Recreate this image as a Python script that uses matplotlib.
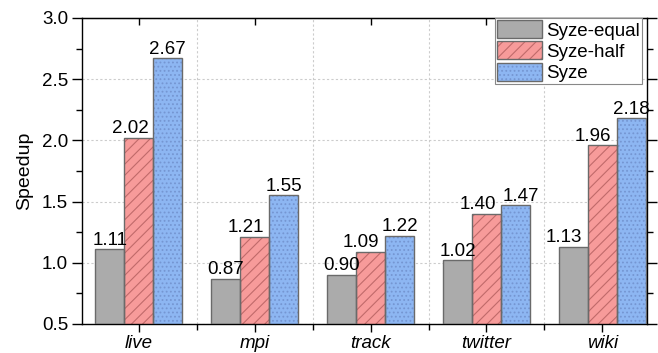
import numpy as np
import matplotlib.pyplot as plt
from matplotlib.ticker import MultipleLocator, FixedLocator

plt.rcParams['font.family'] = ['Liberation Sans', 'DejaVu Sans']
plt.rcParams['hatch.linewidth'] = 0.8

datasets = ['live', 'mpi', 'track', 'twitter', 'wiki']
syze_equal = [1.11, 0.87, 0.90, 1.02, 1.13]
syze_half = [2.02, 1.21, 1.09, 1.40, 1.96]
syze = [2.67, 1.55, 1.22, 1.47, 2.18]

# horizontal nudges (points) for the value labels so neighbours don't collide
nudge_equal = [0, 0, 0, 0, -7]
nudge_half = [-6, -6, -7, -6, -7]
nudge_syze = [0, 0, 0, 4, 0]

series = [
    ('Syze-equal', syze_equal, nudge_equal, '#ABABAB', None, '#ABABAB'),
    ('Syze-half', syze_half, nudge_half, '#F79B9A', '///', '#C06A6A'),
    ('Syze', syze, nudge_syze, '#8DB6F2', '....', '#7596D2'),
]

fig = plt.figure(figsize=(6.58, 3.53), dpi=100)
ax = fig.add_axes([0.1246, 0.0822, 0.8587, 0.867])

x = np.arange(len(datasets))
w = 0.25
edge = '#6A6A6A'
fs = 13.5
handles = []
for i, (label, vals, nudges, face, hatch, hcol) in enumerate(series):
    pos = x + (i - 1) * w
    # fill + hatch first, outline drawn on top so the hatch keeps its own colour
    fill = ax.bar(pos, vals, w, color=face, hatch=hatch, edgecolor=hcol,
                  linewidth=0, zorder=2)
    outline = ax.bar(pos, vals, w, fill=False, edgecolor=edge,
                     linewidth=1.0, zorder=3)
    handles.append((fill[0], outline[0]))
    for p, v, dx in zip(pos, vals, nudges):
        ax.annotate(f'{v:.2f}', (p, v), xytext=(dx, 0.5),
                    textcoords='offset points', ha='center', va='bottom',
                    fontsize=fs, zorder=4)

ax.set_xlim(-0.49, 4.385)
ax.set_ylim(0.5, 3.0)

ax.set_xticks(x)
ax.set_xticklabels(datasets, fontsize=fs, style='italic')
ax.xaxis.set_minor_locator(FixedLocator(x[:-1] + 0.5))
ax.yaxis.set_major_locator(MultipleLocator(0.5))
ax.yaxis.set_minor_locator(MultipleLocator(0.25))
ax.yaxis.set_major_formatter(plt.FormatStrFormatter('%.1f'))

ax.tick_params(axis='y', which='major', direction='out', length=7, width=1,
               labelsize=fs, right=True, pad=3)
ax.tick_params(axis='y', which='minor', direction='out', length=4, width=1,
               right=True)
ax.tick_params(axis='x', which='major', direction='out', length=6, width=1,
               pad=2)
ax.tick_params(axis='x', which='minor', direction='out', length=4, width=1)

# inward ticks along the top spine at each category
top = ax.secondary_xaxis('top')
top.set_xticks(x)
top.tick_params(direction='in', length=5, width=1, labeltop=False)

for s in ax.spines.values():
    s.set_linewidth(1.0)

ax.set_ylabel('Speedup', fontsize=14, labelpad=6)

ax.grid(axis='y', which='major', linestyle=(0, (2, 2)), color='#CCCCCC',
        linewidth=0.8, zorder=0)
ax.grid(axis='x', which='minor', linestyle=(0, (2, 2)), color='#CCCCCC',
        linewidth=0.8, zorder=0)
ax.set_axisbelow(True)

leg = ax.legend(handles, [s[0] for s in series], loc='upper right',
                bbox_to_anchor=(0.991, 1.0), fontsize=fs, frameon=True,
                fancybox=False, framealpha=1, edgecolor='#888888',
                borderpad=0.12, borderaxespad=0, handlelength=2.4,
                handleheight=1.1, handletextpad=0.2, labelspacing=0.1)
leg.get_frame().set_linewidth(0.8)
leg.set_zorder(5)

fig.savefig('out.png', dpi=100)
